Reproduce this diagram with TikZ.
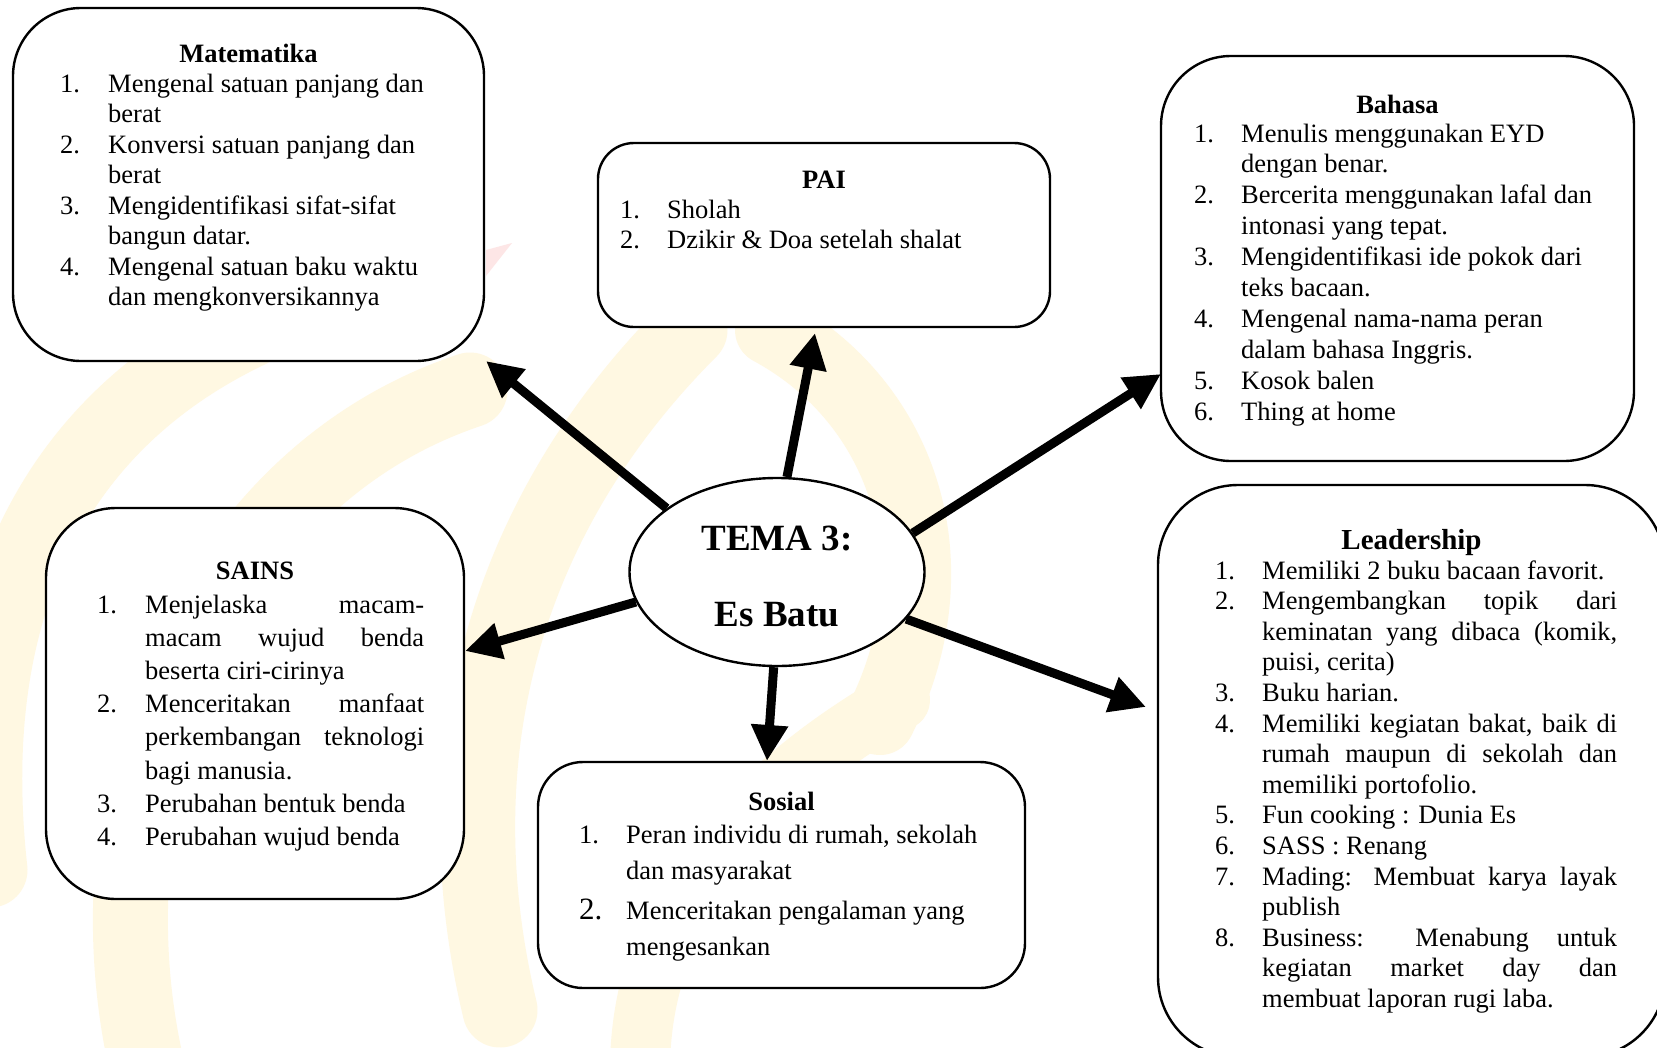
\documentclass[tikz,border=0pt]{standalone}
\usepackage{fontspec}
\setmainfont{Liberation Serif}
\usetikzlibrary{arrows.meta,shapes.geometric}
\definecolor{wmark}{HTML}{FFF8E2}
\definecolor{wmpink}{HTML}{FDE6E6}
% a justified line of a given width
\newcommand{\jl}[2]{\makebox[#1][s]{#2}}
\begin{document}
\begin{tikzpicture}[x=1pt,y=-1pt,
  subjbox/.style={draw, line width=2.4pt, fill=white, rounded corners=#1, inner sep=0pt},
  ttl/.style={anchor=base, inner sep=0pt, font=\fontsize{26.5}{30}\selectfont\bfseries},
  lst/.style={anchor=base west, inner sep=0pt, font=\fontsize{26.5}{#1}\selectfont},
  arr/.style={line width=9pt, -{Triangle[length=36pt,width=35pt]}},
  wm/.style={draw=wmark, line width=#1, line cap=round}]

\clip (0,0) rectangle (1657,1047);
\fill[white] (0,0) rectangle (1657,1047);

% faint logo in the background
\draw[wm=75pt] (-10,870) .. controls (-40,600) and (60,420) .. (250,330);
\draw[wm=75pt] (150,1080) .. controls (80,800) and (200,480) .. (470,390);
\draw[wm=75pt] (500,1010) .. controls (440,760) and (500,520) .. (690,330);
\draw[wm=70pt] (880,720) .. controls (960,560) and (900,400) .. (770,330);
\draw[wm=60pt] (640,1070) .. controls (640,900) and (760,780) .. (900,700);
\fill[wmpink] (486,250) -- (512,243) -- (486,276) -- cycle;

% subject boxes
\node[subjbox=68pt, minimum width=471pt, minimum height=353pt] (mat) at (248.5,184.5) {};
\node[subjbox=36pt, minimum width=452pt, minimum height=184pt] (pai) at (824,235) {};
\node[subjbox=70pt, minimum width=473pt, minimum height=405pt] (bhs) at (1397.5,258.5) {};
\node[subjbox=70pt, minimum width=418pt, minimum height=391pt] (sains) at (255,703.5) {};
\node[subjbox=45pt, minimum width=487pt, minimum height=226pt] (sos) at (781.5,875) {};
\node[subjbox=80pt, minimum width=507pt, minimum height=572pt] (ldr) at (1411.5,771) {};

% titles
\node[ttl] (matT) at (248.5,62) {Matematika};
\node[ttl] (paiT) at (824,188) {PAI};
\node[ttl] (bhsT) at (1397.5,113) {Bahasa};
\node[ttl] (sainsT) at (255,579) {SAINS};
\node[ttl] (sosT) at (781.5,810) {Sosial};
\node[ttl, font=\fontsize{29}{30}\selectfont\bfseries] (ldrT) at (1411.5,549) {Leadership};

% lists
\node[lst=30.5pt] (matL) at (60,92) {\begin{tabular}[t]{@{}p{48pt}@{}l@{}}
1.&Mengenal satuan panjang dan\\
  &berat\\
2.&Konversi satuan panjang dan\\
  &berat\\
3.&Mengidentifikasi sifat-sifat\\
  &bangun datar.\\
4.&Mengenal satuan baku waktu\\
  &dan mengkonversikannya
\end{tabular}};

\node[lst=30pt] (paiL) at (620,218) {\begin{tabular}[t]{@{}p{47pt}@{}l@{}}
1.&Sholah\\
2.&Dzikir \& Doa setelah shalat
\end{tabular}};

\node[lst=30.9pt] (bhsL) at (1194,142) {\begin{tabular}[t]{@{}p{47pt}@{}l@{}}
1.&Menulis menggunakan EYD\\
  &dengan benar.\\
2.&Bercerita menggunakan lafal dan\\
  &intonasi yang tepat.\\
3.&Mengidentifikasi ide pokok dari\\
  &teks bacaan.\\
4.&Mengenal nama-nama peran\\
  &dalam bahasa Inggris.\\
5.&Kosok balen\\
6.&Thing at home
\end{tabular}};

\node[lst=33.2pt] (sainsL) at (97,613) {\begin{tabular}[t]{@{}p{48pt}@{}l@{}}
1.&\jl{279pt}{Menjelaska macam-}\\
  &\jl{279pt}{macam wujud benda}\\
  &beserta ciri-cirinya\\
2.&\jl{279pt}{Menceritakan manfaat}\\
  &\jl{279pt}{perkembangan teknologi}\\
  &bagi manusia.\\
3.&Perubahan bentuk benda\\
4.&Perubahan wujud benda
\end{tabular}};

\node[lst=36pt] (sosL) at (579,843) {\begin{tabular}[t]{@{}p{47pt}@{}l@{}}
1.&Peran individu di rumah, sekolah\\
  &dan masyarakat\\[4pt]
{\fontsize{31}{36}\selectfont 2.}&Menceritakan pengalaman yang\\
  &mengesankan
\end{tabular}};

\node[lst=30.6pt] (ldrL) at (1215,579) {\begin{tabular}[t]{@{}p{47pt}@{}l@{}}
1.&Memiliki 2 buku bacaan favorit.\\
2.&\jl{355pt}{Mengembangkan topik dari}\\
  &\jl{355pt}{keminatan yang dibaca (komik,}\\
  &puisi, cerita)\\
3.&Buku harian.\\
4.&\jl{355pt}{Memiliki kegiatan bakat, baik di}\\
  &\jl{355pt}{rumah maupun di sekolah dan}\\
  &memiliki portofolio.\\
5.&Fun cooking : Dunia Es\\
6.&SASS : Renang\\
7.&\jl{355pt}{Mading: Membuat karya layak}\\
  &publish\\
8.&\jl{355pt}{Business: Menabung untuk}\\
  &\jl{355pt}{kegiatan market day dan}\\
  &membuat laporan rugi laba.
\end{tabular}};

% central theme
\node[draw, ellipse, line width=2.4pt, fill=white, minimum width=295pt, minimum height=188pt,
      inner sep=0pt] (c) at (777,572) {};
\node[align=center, inner sep=0pt, font=\fontsize{37}{76}\selectfont\bfseries] (cT) at (777,576)
      {TEMA 3:\\Es Batu};

% arrow tips at the boxes
\coordinate (tipMat) at (486,361);
\coordinate (tipPai) at (815,333);
\coordinate (tipBhs) at (1161,374);
\coordinate (tipSains) at (465,651);
\coordinate (tipSos) at (767,761);
\coordinate (tipLdr) at (1146,707);

\draw[arr] (c.150) -- (tipMat);
\draw[arr] (c.84) -- (tipPai);
\draw[arr] (c.16) -- (tipBhs);
\draw[arr] (c.192.6) -- (tipSains);
\draw[arr] (c.268.8) -- (tipSos);
\draw[arr] (c.340) -- (tipLdr);
\end{tikzpicture}
\end{document}
